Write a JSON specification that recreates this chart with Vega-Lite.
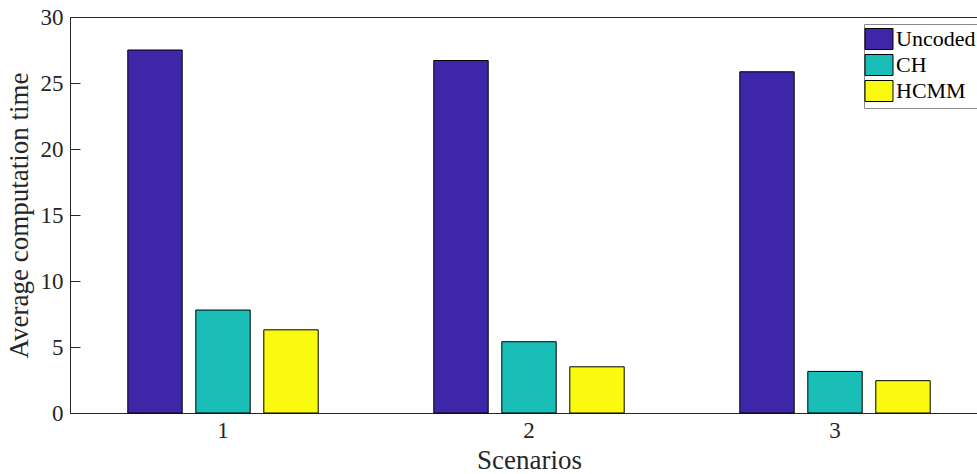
{
  "$schema": "https://vega.github.io/schema/vega-lite/v6.json",
  "autosize": {"type": "none"},
  "padding": {"left": 70, "top": 17, "right": 0, "bottom": 61},
  "width": 907,
  "height": 396,
  "background": "white",
  "config": {
    "font": "Liberation Serif",
    "view": {"stroke": "#262626", "strokeWidth": 1},
    "axis": {
      "domainColor": "#262626",
      "tickColor": "#262626",
      "labelColor": "#262626",
      "titleColor": "#262626",
      "labelFont": "Liberation Serif",
      "titleFont": "Liberation Serif",
      "labelFontSize": 23,
      "titleFontSize": 27,
      "titleFontWeight": "normal",
      "grid": false
    }
  },
  "data": {
    "values": [
      {"scenario": "1", "method": "Uncoded", "time": 27.5},
      {"scenario": "1", "method": "CH", "time": 7.8},
      {"scenario": "1", "method": "HCMM", "time": 6.3},
      {"scenario": "2", "method": "Uncoded", "time": 26.7},
      {"scenario": "2", "method": "CH", "time": 5.4},
      {"scenario": "2", "method": "HCMM", "time": 3.5},
      {"scenario": "3", "method": "Uncoded", "time": 25.85},
      {"scenario": "3", "method": "CH", "time": 3.15},
      {"scenario": "3", "method": "HCMM", "time": 2.45}
    ]
  },
  "mark": {"type": "bar", "stroke": "black", "strokeWidth": 1},
  "encoding": {
    "x": {
      "field": "scenario",
      "type": "nominal",
      "scale": {"range": [0, 918], "paddingInner": 0, "paddingOuter": 0},
      "axis": {
        "title": "Scenarios",
        "labelAngle": 0,
        "tickSize": -9,
        "labelPadding": 15,
        "titlePadding": 5,
        "tickBand": "center"
      }
    },
    "xOffset": {
      "field": "method",
      "type": "nominal",
      "sort": ["Uncoded", "CH", "HCMM"],
      "scale": {"paddingInner": 0.2, "paddingOuter": 0.85}
    },
    "y": {
      "field": "time",
      "type": "quantitative",
      "scale": {"domain": [0, 30], "nice": false},
      "axis": {
        "title": "Average computation time",
        "values": [0, 5, 10, 15, 20, 25, 30],
        "tickSize": -10,
        "labelPadding": 17,
        "titlePadding": 7
      }
    },
    "color": {
      "field": "method",
      "type": "nominal",
      "sort": ["Uncoded", "CH", "HCMM"],
      "scale": {"domain": ["Uncoded", "CH", "HCMM"], "range": ["#3E26A8", "#19BEB6", "#F9FA10"]},
      "legend": {
        "title": null,
        "orient": "none",
        "legendX": 794,
        "legendY": 7,
        "symbolType": "M-1.333,-1H1.333V1H-1.333Z",
        "symbolSize": 441,
        "symbolStrokeColor": "black",
        "symbolStrokeWidth": 1,
        "symbolOpacity": 1,
        "labelFontSize": 22,
        "labelFont": "Liberation Serif",
        "labelColor": "black",
        "labelOffset": 6,
        "rowPadding": 0,
        "padding": 4,
        "strokeColor": "#8a8a8a",
        "fillColor": "white"
      }
    }
  }
}
